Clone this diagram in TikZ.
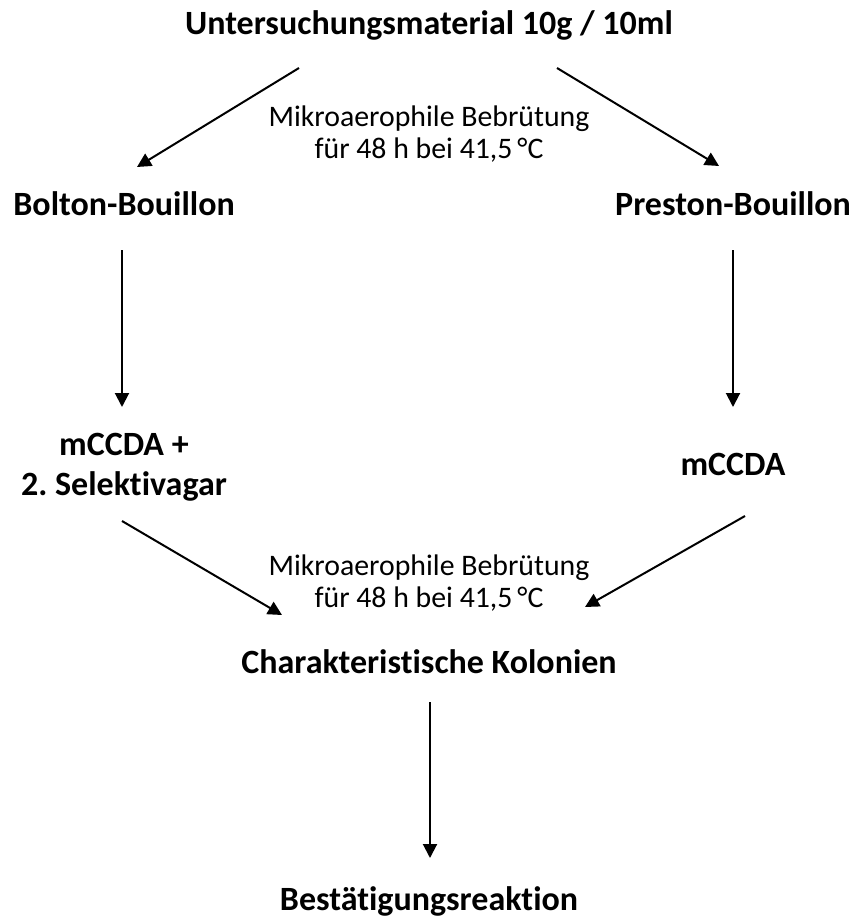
\documentclass[tikz,border=0pt]{standalone}
\usepackage{fontspec}
\setmainfont{Carlito}[Ligatures=NoCommon]
\usetikzlibrary{arrows.meta}
\frenchspacing

\begin{document}
\begin{tikzpicture}[x=1pt,y=-1pt]
    % Define styles for the steps and the notes
    \tikzstyle{stufe}=[anchor=base, inner sep=0pt, font=\fontsize{34}{40}\selectfont\bfseries]
    \tikzstyle{hinweis}=[anchor=base, inner sep=0pt, font=\fontsize{29.8}{36}\selectfont]
    \tikzstyle{pfeil}=[line width=2pt, -{Triangle[length=14pt,width=14pt]}]

    \useasboundingbox (0,0) rectangle (858,917);

    % Sample
    \node[stufe] (probe) at (429,35) {Untersuchungsmaterial 10g / 10ml};

    % Enrichment broths
    \node[stufe] (bolton) at (124,215) {Bolton-Bouillon};
    \node[stufe] (preston) at (733,215) {Preston-Bouillon};
    \node[hinweis] (hinw1a) at (429,127) {Mikroaerophile Bebrütung};
    \node[hinweis] (hinw1b) at (429,159) {für 48 h bei 41,5\,°C};

    % Selective agars
    \node[stufe] (agar1a) at (124,455) {mCCDA +};
    \node[stufe] (agar1b) at (124,495) {2. Selektivagar};
    \node[stufe] (agar2) at (733,475) {mCCDA};

    % Colonies and confirmation
    \node[hinweis] (hinw2a) at (429,575) {Mikroaerophile Bebrütung};
    \node[hinweis] (hinw2b) at (429,607) {für 48 h bei 41,5\,°C};
    \node[stufe] (kolonien) at (429,673) {Charakteristische Kolonien};
    \node[stufe] (bestaet) at (429,910) {Bestätigungsreaktion};

    % Arrows
    \draw[pfeil] ([xshift=-130pt,yshift=-33pt]probe.base) -- ([xshift=13pt,yshift=48pt]bolton.base);
    \draw[pfeil] ([xshift=128pt,yshift=-33pt]probe.base) -- ([xshift=-14pt,yshift=49pt]preston.base);
    \draw[pfeil] ([xshift=-2pt,yshift=-35pt]bolton.base) -- ([xshift=-2pt,yshift=48pt]agar1a.base);
    \draw[pfeil] ([yshift=-35pt]preston.base) -- ([yshift=68pt]agar2.base);
    \draw[pfeil] ([xshift=-2pt,yshift=-26pt]agar1b.base) -- ([xshift=-147pt,yshift=58pt]kolonien.base);
    \draw[pfeil] ([xshift=12pt,yshift=-41pt]agar2.base) -- ([xshift=156pt,yshift=66pt]kolonien.base);
    \draw[pfeil] ([xshift=1pt,yshift=-29pt]kolonien.base) -- ([xshift=1pt,yshift=52pt]bestaet.base);

\end{tikzpicture}
\end{document}
